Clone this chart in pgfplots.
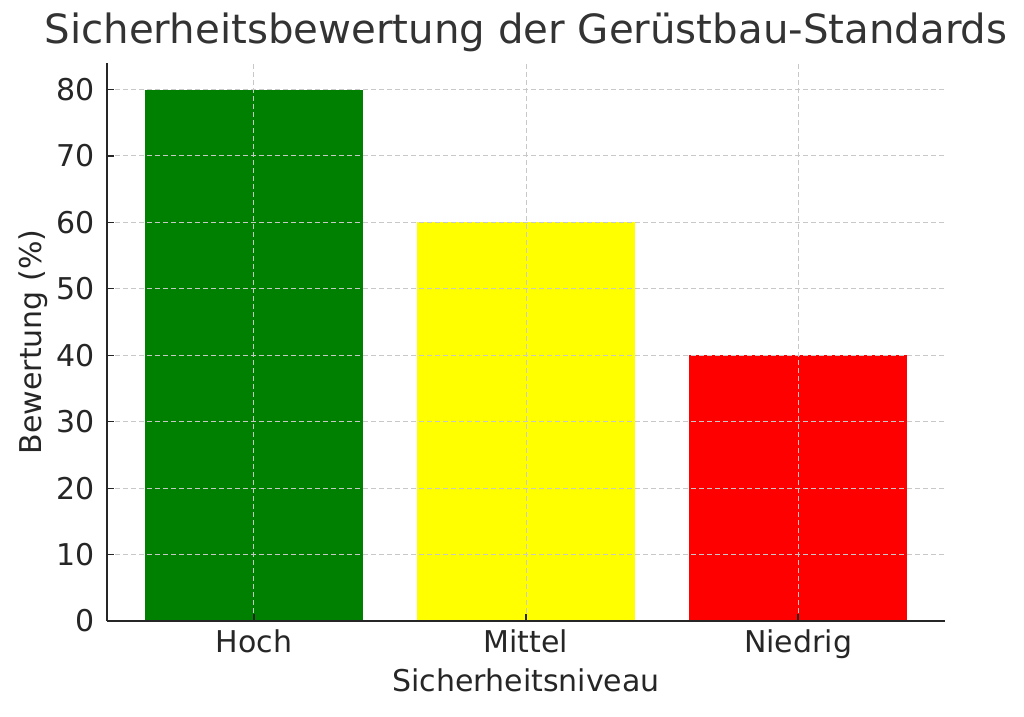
\documentclass[border=0pt]{standalone}
\usepackage{fontspec}
\setmainfont{DejaVu Sans}
\usepackage{pgfplots}
\pgfplotsset{compat=1.18}
\definecolor{txt}{HTML}{262626}
\definecolor{ttl}{HTML}{333333}
\definecolor{gridc}{HTML}{C8C8C8}
\definecolor{barg}{HTML}{008000}
\definecolor{bary}{HTML}{FFFF00}
\definecolor{barr}{HTML}{FF0000}

\begin{document}
\begin{tikzpicture}
\begin{axis}[
    name=ax,
    scale only axis,
    width=838pt, height=558pt,
    xmin=-0.54, xmax=2.54,
    ymin=0, ymax=84,
    axis x line*=bottom,
    axis y line*=left,
    axis line style={txt, line width=1.4pt},
    axis on top,
    xtick={0,1,2},
    xticklabels={Hoch,Mittel,Niedrig},
    ytick={0,10,...,80},
    tick align=inside,
    major tick length=7pt,
    tick style={txt, line width=1.2pt},
    grid=major,
    major grid style={gridc, line width=1pt, dash pattern=on 5pt off 3pt},
    /pgf/number format/assume math mode=true,
    ticklabel style={font=\fontsize{30}{35}\selectfont, text=txt},
    yticklabel style={inner sep=0pt, xshift=-12pt},
    xticklabel style={inner sep=0pt, yshift=-9pt},
    title={Sicherheitsbewertung der Gerüstbau-Standards},
    title style={font=\fontsize{40.3}{46}\selectfont, text=ttl, anchor=base,
        at={(axis description cs:0.5,1.025)}},
    xlabel={Sicherheitsniveau},
    xlabel style={font=\fontsize{30}{35}\selectfont, text=txt, anchor=base,
        at={(axis description cs:0.5,-0.127)}},
    ylabel={Bewertung (\%)},
    ylabel style={font=\fontsize{30}{35}\selectfont, text=txt, anchor=base,
        at={(axis description cs:-0.0776,0.5)}},
]
\addplot[ybar, bar width=0.8, fill=barg, draw=none] coordinates {(0,80)};
\addplot[ybar, bar width=0.8, fill=bary, draw=none] coordinates {(1,60)};
\addplot[ybar, bar width=0.8, fill=barr, draw=none] coordinates {(2,40)};
\end{axis}
\path (ax.south west) ++(-107pt,-96pt) coordinate (bl);
\path (ax.north east) ++(79pt,63pt) coordinate (tr);
\path[use as bounding box] (bl) rectangle (tr);
\end{tikzpicture}
\end{document}
